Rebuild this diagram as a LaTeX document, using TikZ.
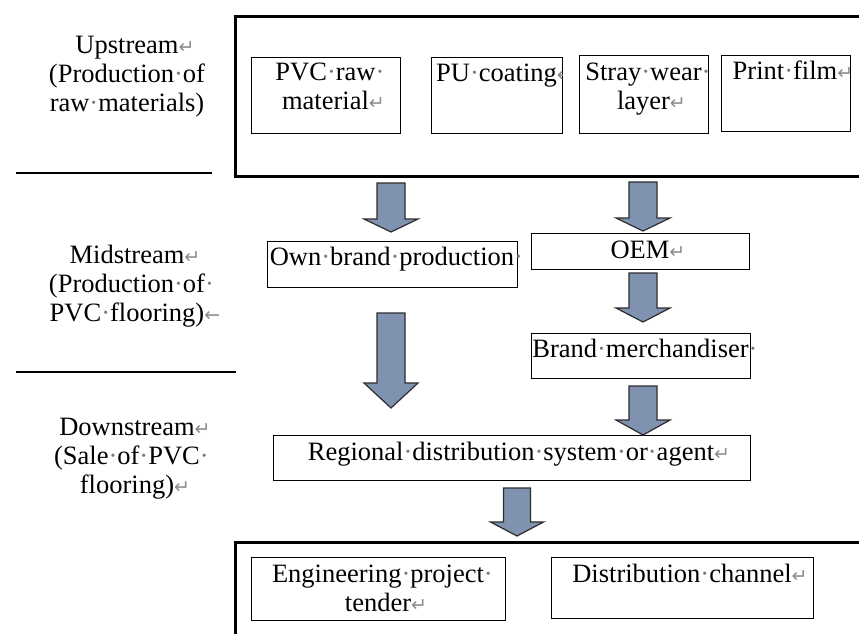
\documentclass[tikz,border=0pt]{standalone}
\usepackage{fontspec}
\setmainfont{Liberation Serif}
\newfontfamily\markfont{DejaVu Sans}
\definecolor{markgray}{RGB}{140,140,140}
\definecolor{dotgray}{RGB}{120,120,120}
\definecolor{arrowfill}{RGB}{127,146,175}
\definecolor{arrowline}{RGB}{45,45,45}
% paragraph marks and visible spaces, as shown by a word processor
\newcommand\pmk{\rlap{\color{markgray}\markfont\fontsize{19}{19}\selectfont ↵}}
\newcommand\lmk{\rlap{\color{markgray}\markfont\fontsize{19}{19}\selectfont ←}}
\newcommand\wsp{{\color{dotgray}·}}
\newcommand\tsp{\rlap{\color{dotgray}·}}
\newcommand\fst{\rule{0pt}{20pt}}
% block arrow: centre x, top y, head start y, tip y, shaft half width, head half width
\newcommand\blockarrow[6]{%
  \draw[barrow] (#1-#5,#2) -- (#1+#5,#2) -- (#1+#5,#3) -- (#1+#6,#3) -- (#1,#4)
    -- (#1-#6,#3) -- (#1-#5,#3) -- cycle;}
\tikzset{
  txt/.style={inner sep=0pt, anchor=north, align=center,
    font=\fontsize{26.5}{29}\selectfont},
  boxstyle/.style={draw, line width=1.3pt, inner sep=0pt, anchor=north west},
  outerbox/.style={draw, line width=2.6pt, inner sep=0pt, anchor=north west},
  barrow/.style={fill=arrowfill, draw=arrowline, line width=1.2pt, line join=miter},
  sepline/.style={line width=1.4pt}
}
\begin{document}
\begin{tikzpicture}[x=1pt, y=-1pt]
\useasboundingbox (0,0) rectangle (859,633);
\fill[white] (0,0) rectangle (859,633);
\clip (0,0) rectangle (859,633);

% stage labels on the left
\node[txt] (uplabel) at (127,33) {\fst Upstream\pmk\\(Production\wsp of\\raw\wsp materials)};
\node[txt] (midlabel) at (127,243) {\fst Midstream\pmk\\(Production\wsp of\tsp\\PVC\wsp flooring)\lmk};
\node[txt] (downlabel) at (127,415) {\fst Downstream\pmk\\(Sale\wsp of\wsp PVC\tsp\\flooring)\pmk};
\coordinate (l1a) at (16,173);  \coordinate (l1b) at (212,173);
\coordinate (l2a) at (16,372);  \coordinate (l2b) at (236,372);
\draw[sepline] (l1a) -- (l1b);
\draw[sepline] (l2a) -- (l2b);

% upstream: raw materials
\node[outerbox, minimum width=646pt, minimum height=160pt] (upbox) at (234,15) {};
\node[boxstyle, minimum width=149pt, minimum height=76pt] (pvc) at (251,57) {};
\node[boxstyle, minimum width=131pt, minimum height=76pt] (pu) at (431,57) {};
\node[boxstyle, minimum width=129pt, minimum height=78pt] (stray) at (579,55) {};
\node[boxstyle, minimum width=129pt, minimum height=76pt] (print) at (721,55) {};
\node[txt] (pvct) at (325.5,60) {\fst PVC\wsp raw\tsp\\material\pmk};
\begin{scope}
  \clip (431,57) rectangle (562,133);
  \node[txt] (put) at (496.5,61) {\fst PU\wsp coating\lmk};
\end{scope}
\node[txt] (strayt) at (643.5,60) {\fst Stray\wsp wear\tsp\\layer\pmk};
\node[txt] (printt) at (785,59) {\fst Print\wsp film\pmk};

% midstream: production
\node[boxstyle, minimum width=250pt, minimum height=46pt] (own) at (267,241) {};
\node[boxstyle, minimum width=218pt, minimum height=36pt] (oem) at (531,233) {};
\node[boxstyle, minimum width=219pt, minimum height=45pt] (brand) at (531,333) {};
\node[txt] (ownt) at (392,245) {\fst Own\wsp brand\wsp production\tsp};
\node[txt] (oemt) at (640,238) {\fst OEM\pmk};
\node[txt] (brandt) at (640.5,337) {\fst Brand\wsp merchandiser\tsp};

% downstream: sales
\node[boxstyle, minimum width=477pt, minimum height=45pt] (regional) at (273,435) {};
\node[txt] (regionalt) at (511,440) {\fst Regional\wsp distribution\wsp system\wsp or\wsp agent\pmk};
\node[outerbox, minimum width=646pt, minimum height=119pt] (downbox) at (234,541) {};
\node[boxstyle, minimum width=254pt, minimum height=63pt] (eng) at (251,557) {};
\node[boxstyle, minimum width=262pt, minimum height=61pt] (dist) at (551,557) {};
\node[txt] (engt) at (378,562) {\fst Engineering\wsp project\tsp\\tender\pmk};
\node[txt] (distt) at (682,562) {\fst Distribution\wsp channel\pmk};

% flow arrows
\blockarrow{391}{183}{219}{232}{14}{27}
\blockarrow{643}{182}{218}{231}{14}{27}
\blockarrow{643}{273}{308}{322}{14}{27}
\blockarrow{391}{313}{383}{408}{14}{27}
\blockarrow{643}{386}{420}{435}{14}{27}
\blockarrow{517}{488}{522}{536}{13.5}{26.5}
\end{tikzpicture}
\end{document}
